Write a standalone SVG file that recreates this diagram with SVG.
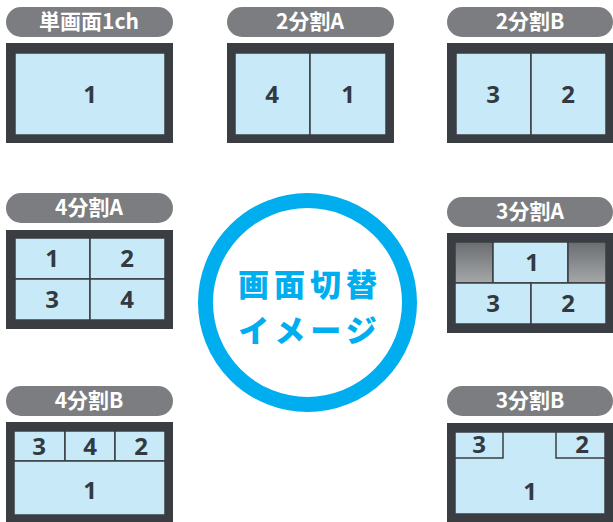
<svg xmlns="http://www.w3.org/2000/svg" width="613" height="522" viewBox="0 0 613 522">
<defs>
<linearGradient id="gg" x1="0" y1="0" x2="0" y2="1">
<stop offset="0" stop-color="#6a6d70"/>
<stop offset="1" stop-color="#a5a7a9"/>
</linearGradient>
<style>
.pill{fill:#7b7d80;}
.pt{fill:#fff;font-family:"Noto Sans CJK JP","Noto Sans",sans-serif;font-weight:700;font-size:21px;text-anchor:middle;}
.fr{fill:#3a3e42;}
.c{fill:#c8e9f8;stroke:#3a3e42;stroke-width:1.5;}
.g{fill:url(#gg);stroke:#3a3e42;stroke-width:1.5;}
.n{fill:#333a3f;font-family:"Open Sans","Noto Sans",sans-serif;font-weight:700;font-size:24px;text-anchor:middle;}
.big{fill:#00aeef;font-family:"Noto Sans CJK JP",sans-serif;font-weight:900;font-size:31px;letter-spacing:5px;text-anchor:middle;}
</style>
</defs>
<g id="single">
<rect class="pill" x="6" y="7" width="167" height="30" rx="15"/>
<text class="pt" x="89" y="29">単画面1ch</text>
<rect class="fr" x="6" y="43" width="167" height="100"/>
<rect class="c" x="15" y="53" width="150" height="82"/>
<text class="n" x="90" y="103">1</text>
</g>
<g id="split2a">
<rect class="pill" x="227" y="7" width="167" height="30" rx="15"/>
<text class="pt" x="310" y="29">2分割A</text>
<rect class="fr" x="227" y="43" width="167" height="100"/>
<rect class="c" x="235" y="53" width="75" height="82"/>
<rect class="c" x="310" y="53" width="76" height="82"/>
<text class="n" x="272" y="103">4</text>
<text class="n" x="348" y="103">1</text>
</g>
<g id="split2b">
<rect class="pill" x="447" y="7" width="166" height="30" rx="15"/>
<text class="pt" x="530" y="29">2分割B</text>
<rect class="fr" x="447" y="43" width="166" height="100"/>
<rect class="c" x="456" y="53" width="75" height="82"/>
<rect class="c" x="531" y="53" width="75" height="82"/>
<text class="n" x="493" y="103">3</text>
<text class="n" x="568" y="103">2</text>
</g>
<g id="split4a">
<rect class="pill" x="6" y="193" width="167" height="30" rx="15"/>
<text class="pt" x="89" y="215">4分割A</text>
<rect class="fr" x="6" y="230" width="167" height="99"/>
<rect class="c" x="15" y="238" width="75" height="41"/>
<rect class="c" x="90" y="238" width="75" height="41"/>
<rect class="c" x="15" y="279" width="75" height="41"/>
<rect class="c" x="90" y="279" width="75" height="41"/>
<text class="n" x="52" y="267">1</text>
<text class="n" x="127" y="267">2</text>
<text class="n" x="52" y="308">3</text>
<text class="n" x="127" y="308">4</text>
</g>
<g id="split3a">
<rect class="pill" x="447" y="197" width="166" height="30" rx="15"/>
<text class="pt" x="530" y="219">3分割A</text>
<rect class="fr" x="447" y="233" width="166" height="100"/>
<rect class="g" x="455" y="242" width="38" height="41"/>
<rect class="c" x="493" y="242" width="75" height="41"/>
<rect class="g" x="568" y="242" width="38" height="41"/>
<rect class="c" x="455" y="283" width="76" height="41"/>
<rect class="c" x="531" y="283" width="75" height="41"/>
<text class="n" x="532" y="271">1</text>
<text class="n" x="493" y="312">3</text>
<text class="n" x="568" y="312">2</text>
</g>
<g id="split4b">
<rect class="pill" x="6" y="386" width="167" height="30" rx="15"/>
<text class="pt" x="89" y="408">4分割B</text>
<rect class="fr" x="6" y="422" width="167" height="100"/>
<rect class="c" x="14" y="431" width="51" height="30"/>
<rect class="c" x="65" y="431" width="50" height="30"/>
<rect class="c" x="115" y="431" width="50" height="30"/>
<rect class="c" x="14" y="461" width="151" height="54"/>
<text class="n" x="39" y="455">3</text>
<text class="n" x="90" y="455">4</text>
<text class="n" x="141" y="455">2</text>
<text class="n" x="90" y="499">1</text>
</g>
<g id="split3b">
<rect class="pill" x="447" y="386" width="166" height="30" rx="15"/>
<text class="pt" x="530" y="408">3分割B</text>
<rect class="fr" x="447" y="423" width="166" height="99"/>
<rect class="c" x="455" y="432" width="150" height="82"/>
<rect class="c" x="455" y="432" width="48" height="26"/>
<rect class="c" x="556" y="432" width="49" height="26"/>
<text class="n" x="479" y="453">3</text>
<text class="n" x="582" y="453">2</text>
<text class="n" x="530" y="500">1</text>
</g>
<g id="center">
<circle cx="307.5" cy="302.5" r="102" fill="#fff" stroke="#00aeef" stroke-width="15"/>
<text class="big" x="310" y="296">画面切替</text>
<text class="big" x="310" y="342">イメージ</text>
</g>
<g id="connectors"/>
</svg>
